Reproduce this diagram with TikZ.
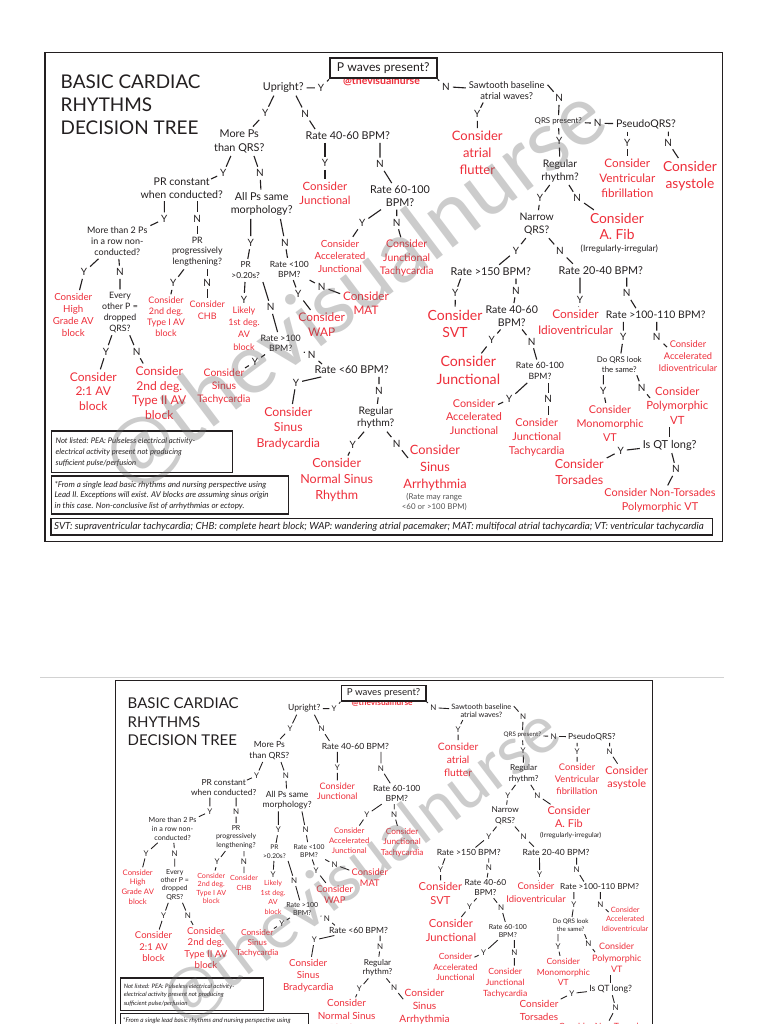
\documentclass[tikz,border=0pt]{standalone}
\usepackage{fontspec}
\setmainfont{Lato}

\definecolor{ink}{RGB}{35,31,32}
\definecolor{alert}{RGB}{238,46,58}
\definecolor{soft}{RGB}{85,85,85}

\newcommand{\strokescale}{1}

\tikzset{
  q/.style={font=\fontsize{10.8}{13}\selectfont, text=ink, align=center, inner sep=1pt, outer sep=2pt},
  qs/.style={q, font=\fontsize{8.8}{10.8}\selectfont},
  qt/.style={q, font=\fontsize{7.9}{10}\selectfont},
  cons/.style 2 args={font=\fontsize{#1}{#2}\selectfont, text=alert, align=center, inner sep=1pt, outer sep=2pt},
  lab/.style={font=\fontsize{10}{12}\selectfont, text=ink, inner sep=1.5pt, outer sep=1.5pt},
  conn/.style={draw=ink, line width=\strokescale*1.1pt},
  frame/.style={draw=ink, line width=\strokescale*1.5pt},
  notebox/.style={draw=ink, line width=\strokescale*1.4pt},
  note/.style={text=ink, align=left, inner sep=0pt},
  title/.style={font=\fontsize{18.9}{23.35}\selectfont, text=ink, align=left, inner sep=0pt},
  pbox/.style={draw=ink, fill=white, line width=\strokescale*1.8pt, minimum width=106.7pt, minimum height=20pt, inner sep=1pt, outer sep=1pt, font=\fontsize{12.2}{14}\selectfont, text=ink},
  tag/.style={font=\fontsize{10.5}{12}\selectfont\bfseries, text=alert},
  wmark/.style={font=\fontsize{84}{84}\selectfont, text=black!60, opacity=0.33, inner sep=0pt},
}

\newcommand{\rhythmtree}{%
  % frame and heading
  \draw[frame] (45,52.3) rectangle (722.7,541.7);
  \node[title, anchor=north west] (ttl) at (60.5,74.3) {BASIC CARDIAC\\RHYTHMS\\DECISION TREE};
  \node[tag] (tagline) at (381.5,81) {@thevisualnurse};
  \node[pbox] (pw) at (383.3,68.3) {P waves present?};
  % left half
  \node[q] (up) at (283.3,87.7) {Upright?};
  \node[q, font=\fontsize{10.8}{14}\selectfont] (mps) at (239.3,141.3) {More Ps\\than QRS?};
  \node[q] (r4060) at (347.8,136) {Rate 40-60 BPM?};
  \node[q, font=\fontsize{10.6}{12.6}\selectfont] (prc) at (181.7,188) {PR constant\\when conducted?};
  \node[q, font=\fontsize{10.8}{13.3}\selectfont] (aps) at (261.7,204.3) {All Ps same\\morphology?};
  \node[cons={11.4}{13.3}] (cjun) at (325,193.3) {Consider\\Junctional};
  \node[q, font=\fontsize{10.8}{12.7}\selectfont] (r60100) at (400,196.3) {Rate 60-100\\BPM?};
  \node[cons={9.8}{12.5}] (caj) at (340,256) {Consider\\Accelerated\\Junctional};
  \node[cons={10.5}{13.3}] (cjt) at (406.7,258.3) {Consider\\Junctional\\Tachycardia};
  \node[qs, font=\fontsize{9}{11.2}\selectfont] (mt2) at (117.3,241.3) {More than 2 Ps\\in a row non-\\conducted?};
  \node[qs] (prp) at (197.3,251.6) {PR\\progressively\\lengthening?};
  \node[cons={9.7}{12.2}] (chg) at (73.3,315) {Consider\\High\\Grade AV\\block};
  \node[qs] (eop) at (120,312.3) {Every\\other P =\\dropped\\QRS?};
  \node[cons={9}{10.9}] (ct1) at (166,317) {Consider\\2nd deg.\\Type I AV\\block};
  \node[cons={9}{12.7}] (chb) at (207.3,310.3) {Consider\\CHB};
  \node[cons={12}{14.7}] (c21) at (93.3,391.5) {Consider\\2:1 AV\\block};
  \node[cons={12.1}{14.7}] (ct2) at (159.3,393) {Consider\\2nd deg.\\Type II AV\\block};
  \node[qs, font=\fontsize{8.3}{11}\selectfont] (pr20) at (245.7,270.5) {PR\\>0.20s?};
  \node[qs, font=\fontsize{8.5}{10}\selectfont] (r100l) at (289.3,269) {Rate <100\\BPM?};
  \node[cons={9}{12.2}] (l1st) at (244,328.5) {Likely\\1st deg.\\AV\\block};
  \node[qs, font=\fontsize{8.8}{10}\selectfont] (r100g) at (280.7,343.3) {Rate >100\\BPM?};
  \node[cons={11.9}{14.4}] (cwap) at (321.7,324.5) {Consider\\WAP};
  \node[cons={11.7}{14}] (cmat) at (366,303.5) {Consider\\MAT};
  \node[cons={10.4}{13.3}] (cst) at (224,386.7) {Consider\\Sinus\\Tachycardia};
  \node[q] (r60l) at (351.7,370) {Rate <60 BPM?};
  \node[cons={12.3}{15.7}] (csb) at (288.3,428.3) {Consider\\Sinus\\Bradycardia};
  \node[q, font=\fontsize{10.4}{12.3}\selectfont] (reg2) at (375.7,417.8) {Regular\\rhythm?};
  \node[cons={12.5}{15.7}] (cnsr) at (336.7,480) {Consider\\Normal Sinus\\Rhythm};
  \node[cons={12.8}{16.7}] (csa) at (435,467.7) {Consider\\Sinus\\Arrhythmia};
  \node[qt, text=soft] (rmr) at (434.3,501.7) {(Rate may range\\<60 or >100 BPM)};
  % right half
  \node[qs, font=\fontsize{9.4}{11}\selectfont] (saw) at (506.7,90.5) {Sawtooth baseline\\atrial waves?};
  \node[cons={13}{16.7}] (caf) at (477.3,152.7) {Consider\\atrial\\flutter};
  \node[qt] (qrs) at (558.3,121.7) {QRS present?};
  \node[q, font=\fontsize{10.6}{13}\selectfont] (psq) at (646,124) {PseudoQRS?};
  \node[q, font=\fontsize{10.4}{13}\selectfont] (reg1) at (560,170.8) {Regular\\rhythm?};
  \node[cons={11.7}{15}] (cvf) at (627.3,177.9) {Consider\\Ventricular\\fibrillation};
  \node[cons={13.8}{17}] (casy) at (690,175.8) {Consider\\asystole};
  \node[q, font=\fontsize{10.4}{13}\selectfont] (nqrs) at (536.7,224.2) {Narrow\\QRS?};
  \node[cons={13.8}{16}] (cafib) at (617,226) {Consider\\A. Fib};
  \node[qt, font=\fontsize{8.6}{10}\selectfont] (irr) at (619.3,249.3) {(Irregularly-irregular)};
  \node[q] (r150) at (490.8,271.7) {Rate >150 BPM?};
  \node[q] (r2040) at (600.8,270.7) {Rate 20-40 BPM?};
  \node[cons={14}{17.7}] (csvt) at (455,323.8) {Consider\\SVT};
  \node[q, font=\fontsize{10.6}{12.7}\selectfont] (r4060b) at (511.7,316.3) {Rate 40-60\\BPM?};
  \node[cons={14.2}{17.3}] (cjun2) at (468.3,370.3) {Consider\\Junctional};
  \node[qs, font=\fontsize{8.7}{11}\selectfont] (r60100b) at (540,371.2) {Rate 60-100\\BPM?};
  \node[cons={11.9}{15.7}] (cidio) at (575.5,322.2) {Consider\\Idioventricular};
  \node[q, font=\fontsize{10.4}{13}\selectfont] (r100110) at (655.7,315) {Rate >100-110 BPM?};
  \node[qt] (dqrs) at (619.3,364.3) {Do QRS look\\the same?};
  \node[cons={9.3}{12}] (caid) at (688,356.2) {Consider\\Accelerated\\Idioventricular};
  \node[cons={10.8}{13.7}] (cmvt) at (610,423.5) {Consider\\Monomorphic\\VT};
  \node[cons={11.3}{14.5}] (cpvt) at (677.3,405.7) {Consider\\Polymorphic\\VT};
  \node[q, font=\fontsize{11}{13}\selectfont] (iqt) at (669.7,445) {Is QT long?};
  \node[cons={12.5}{15.7}] (ctor) at (579.3,472.2) {Consider\\Torsades};
  \node[cons={10.9}{13.7}] (cnt) at (660,500.2) {Consider Non-Torsades\\Polymorphic VT};
  \node[cons={10.8}{13.8}] (caj2) at (474,417) {Consider\\Accelerated\\Junctional};
  \node[cons={10.9}{14}] (cjt2) at (536.7,437.3) {Consider\\Junctional\\Tachycardia};
  % yes / no marks
  \node[lab] (upY) at (321,88) {Y};
  \node[lab] (mpsY) at (265.3,113.3) {Y};
  \node[lab] (r4060N) at (305.3,114) {N};
  \node[lab] (prcY) at (223.3,173.3) {Y};
  \node[lab] (apsN) at (260,173.3) {N};
  \node[lab] (cjunY) at (325,163.3) {Y};
  \node[lab] (r60100N) at (380,164.3) {N};
  \node[lab] (cajY) at (362.3,222.7) {Y};
  \node[lab] (cjtN) at (396.7,222.7) {N};
  \node[lab] (mt2Y) at (164.3,219) {Y};
  \node[lab] (prpN) at (197.3,219) {N};
  \node[lab] (chgY) at (84,272.3) {Y};
  \node[lab] (eopN) at (120,272.3) {N};
  \node[lab] (ct1Y) at (173.3,283.3) {Y};
  \node[lab] (chbN) at (207.3,282.7) {N};
  \node[lab] (c21Y) at (106,351.7) {Y};
  \node[lab] (ct2N) at (136.7,351.7) {N};
  \node[lab] (pr20Y) at (250.7,242.7) {Y};
  \node[lab] (r100lN) at (285,242.7) {N};
  \node[lab] (l1stY) at (244,299.5) {Y};
  \node[lab] (r100gN) at (270.7,307.3) {N};
  \node[lab] (cwapY) at (298.3,294) {Y};
  \node[lab] (cmatN) at (321.7,286.7) {N};
  \node[lab] (cstY) at (255,361.7) {Y};
  \node[lab] (r60lN) at (311.7,355) {N};
  \node[lab] (csbY) at (296,382.7) {Y};
  \node[lab] (reg2N) at (379,390.7) {N};
  \node[lab] (cnsrY) at (352.7,445.3) {Y};
  \node[lab] (csaN) at (396.7,443.7) {N};
  \node[lab] (sawN) at (446,86.7) {N};
  \node[lab] (cafY) at (477.3,114.3) {Y};
  \node[lab] (qrsN) at (559.3,98.3) {N};
  \node[lab] (psqN) at (597.7,123.3) {N};
  \node[lab] (reg1Y) at (559.3,141) {Y};
  \node[lab] (cvfY) at (627.3,142.7) {Y};
  \node[lab] (casyN) at (668.3,142.7) {N};
  \node[lab] (nqrsY) at (540,198.3) {Y};
  \node[lab] (cafibN) at (577.3,198.3) {N};
  \node[lab] (r150Y) at (516,250.7) {Y};
  \node[lab] (r2040N) at (560,251) {N};
  \node[lab] (csvtY) at (455.3,293.3) {Y};
  \node[lab] (r4060bN) at (516,290.7) {N};
  \node[lab] (cjun2Y) at (491.7,340) {Y};
  \node[lab] (r60100bN) at (531.7,341.7) {N};
  \node[lab] (cidioY) at (580,300) {Y};
  \node[lab] (r100110N) at (626.7,293.3) {N};
  \node[lab] (dqrsY) at (623.3,337.3) {Y};
  \node[lab] (caidN) at (656.7,337.3) {N};
  \node[lab] (cmvtY) at (603.3,391) {Y};
  \node[lab] (cpvtN) at (641.7,387.8) {N};
  \node[lab] (caj2Y) at (509.3,399.3) {Y};
  \node[lab] (cjt2N) at (548.3,399.3) {N};
  \node[lab] (ctorY) at (620.7,450.7) {Y};
  \node[lab] (cntN) at (676,469.3) {N};
  % ends that meet a text line rather than its box
  \coordinate (prcIn) at (211,179);
  \coordinate (cstIn) at (245,368);
  \coordinate (r60lIn) at (322,364);
  \coordinate (csaIn) at (408,458);
  \coordinate (caidIn) at (667,347);
  \coordinate (cpvtIn) at (650,398);
  \coordinate (caj2In) at (498,404.5);
  % connectors, left half
  \draw[conn] (pw.south west) -- (upY) -- (up);
  \draw[conn] (up.-140) -- (mpsY) -- (mps);
  \draw[conn] (up.-32) -- (r4060N) -- (r4060.168);
  \draw[conn] (mps.-120) -- (prcY) -- (prcIn);
  \draw[conn] (mps.-45) -- (apsN) -- (aps);
  \draw[conn] (cjunY |- r4060.south) -- (cjunY) -- (cjun);
  \draw[conn] (r60100N |- r4060.south) -- (r60100N) -- (r60100);
  \draw[conn] (r60100) -- (cajY) -- (caj);
  \draw[conn] (cjtN |- r60100.south) -- (cjtN) -- (cjt);
  \draw[conn] (mt2Y |- prc.south) -- (mt2Y) -- (mt2);
  \draw[conn] (prpN |- prc.south) -- (prpN) -- (prp);
  \draw[conn] (mt2) -- (chgY) -- (chg);
  \draw[conn] (mt2) -- (eopN) -- (eop);
  \draw[conn] (prp) -- (ct1Y) -- (ct1);
  \draw[conn] (chbN |- prp.south) -- (chbN) -- (chb);
  \draw[conn] (eop) -- (c21Y) -- (c21);
  \draw[conn] (eop) -- (ct2N) -- (ct2);
  \draw[conn] (pr20Y |- aps.south) -- (pr20Y) -- (pr20);
  \draw[conn] (aps.-38) -- (r100lN) -- (r100l);
  \draw[conn] (pr20) -- (l1stY);
  \draw[conn] (pr20.south east) -- (r100gN) -- (r100g);
  \draw[conn] (r100l) -- (cwapY) -- (cwap);
  \draw[conn] (r100l) -- (cmatN) -- (cmat);
  \draw[conn] (r100g) -- (cstY) -- (cstIn);
  \draw[conn] (r100g) -- (r60lN) -- (r60lIn);
  \draw[conn] (r60l) -- (csbY) -- (csb);
  \draw[conn] (reg2N |- r60l.south) -- (reg2N) -- (reg2);
  \draw[conn] (reg2) -- (cnsrY) -- (cnsr);
  \draw[conn] (reg2) -- (csaN) -- (csaIn);
  % connectors, right half
  \draw[conn] (pw.south east) -- (sawN) -- (saw);
  \draw[conn] (saw.-153) -- (cafY) -- (caf);
  \draw[conn] (saw.8) -- (qrsN) -- (qrs);
  \draw[conn] (qrs) -- (psqN) -- (psq);
  \draw[conn] (qrs) -- (reg1Y) -- (reg1);
  \draw[conn] (cvfY |- psq.south) -- (cvfY) -- (cvf);
  \draw[conn] (casyN |- psq.south) -- (casyN) -- (casy);
  \draw[conn] (reg1) -- (nqrsY) -- (nqrs);
  \draw[conn] (reg1) -- (cafibN) -- (cafib);
  \draw[conn] (nqrs) -- (r150Y) -- (r150);
  \draw[conn] (nqrs) -- (r2040N) -- (r2040.166);
  \draw[conn] (r150.-167) -- (csvtY) -- (csvt);
  \draw[conn] (r4060bN |- r150.south) -- (r4060bN) -- (r4060b);
  \draw[conn] (r4060b) -- (cjun2Y) -- (cjun2);
  \draw[conn] (r4060b) -- (r60100bN) -- (r60100b);
  \draw[conn] (cidioY |- r2040.south) -- (cidioY) -- (cidio);
  \draw[conn] (r100110N |- r2040.south) -- (r100110N) -- (r100110.161);
  \draw[conn] (dqrsY |- r100110.south) -- (dqrsY) -- (dqrs);
  \draw[conn] (caidN |- r100110.south) -- (caidN) -- (caidIn);
  \draw[conn] (cmvtY |- dqrs.south) -- (cmvtY) -- (cmvt);
  \draw[conn] (dqrs.-32) -- (cpvtN) -- (cpvtIn);
  \draw[conn] (r60100b) -- (caj2Y) -- (caj2In);
  \draw[conn] (cjt2N |- r60100b.south) -- (cjt2N) -- (cjt2N |- cjt2.north);
  \draw[conn] (iqt.north |- cpvt.south) -- (iqt.north);
  \draw[conn] (iqt) -- (ctorY) -- (ctor);
  \draw[conn] (iqt) -- (cntN) -- (cnt);
  % notes
  \draw[notebox] (51.7,431) rectangle (232.3,472.3);
  \node[note, font=\fontsize{7.7}{10.8}\selectfont\itshape, anchor=west] (pea) at (55.5,452.5) {Not listed: PEA: Pulseless electrical activity-\\electrical activity present not producing\\sufficient pulse/perfusion};
  \draw[notebox] (51.7,476) rectangle (288.3,514);
  \node[note, font=\fontsize{8.05}{10.5}\selectfont\itshape, anchor=west] (src) at (54.5,495.5) {*From a single lead basic rhythms and nursing perspective using\\Lead II. Exceptions will exist. AV blocks are assuming sinus origin\\in this case. Non-conclusive list of arrhythmias or ectopy.};
  \draw[notebox] (51,518.3) rectangle (712.7,535);
  \node[note, font=\fontsize{9.8}{11}\selectfont\itshape, anchor=west] (abbr) at (54,526.7) {SVT: supraventricular tachycardia; CHB: complete heart block; WAP: wandering atrial pacemaker; MAT: multifocal atrial tachycardia; VT: ventricular tachycardia};
  % watermark
  \node[wmark, rotate=37] (wm) at (355,289) {@thevisualnurse};
}

\begin{document}
\begin{tikzpicture}[x=1pt, y=-1pt]
  \useasboundingbox (0,0) rectangle (768,1024);
  \fill[white] (0,0) rectangle (768,1024);
  \clip (0,0) rectangle (768,1024);
  \rhythmtree
  \draw[gray!35, line width=1pt] (40,677) -- (723.5,677);
  \begin{scope}[shift={(79.6,639.6)}, xscale=0.793, yscale=0.785, transform shape]
    \renewcommand{\strokescale}{0.8}
    \rhythmtree
  \end{scope}
\end{tikzpicture}
\end{document}
